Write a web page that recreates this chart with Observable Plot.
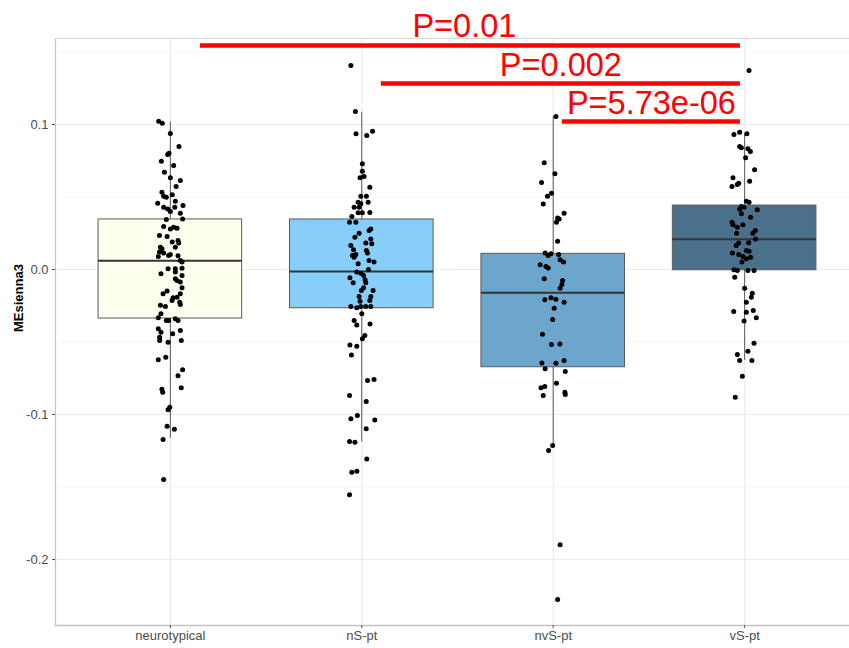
<!DOCTYPE html>
<html>
<head>
<meta charset="utf-8">
<script src="https://cdn.jsdelivr.net/npm/d3@7"></script>
<script src="https://cdn.jsdelivr.net/npm/@observablehq/plot@0.6"></script>
<style>
  html, body { margin: 0; padding: 0; background: #fff; }
  #chart svg { display: block; }
</style>
</head>
<body>
<div id="chart"></div>
<script>
// ---- data ----
const categories = ["neurotypical", "nS-pt", "nvS-pt", "vS-pt"];
const fills = ["#FFFFF0", "#87CEFA", "#6CA6CD", "#4A708B"];

// box statistics (lower whisker, Q1, median, Q3, upper whisker)
const whiskerLo = [-0.1166, -0.1191, -0.1226, -0.0628];
const q1        = [-0.0338, -0.0267, -0.0674, -0.0005];
const median    = [ 0.0060, -0.0014, -0.0161,  0.0209];
const q3        = [ 0.0345,  0.0345,  0.0108,  0.0441];
const whiskerHi = [ 0.1016,  0.1085,  0.1055,  0.0936];

// jittered samples: [horizontal jitter (category units), MEsienna3]
const neurotypicalPts = [[-0.061,0.1023],[-0.042,0.1009],[0,0.0938],[0.045,0.0848],[-0.014,0.0793],[-0.007,0.0802],[-0.047,0.0747],[0.017,0.0717],[-0.031,0.0671],[0,0.0632],[0.052,0.0614],[0.030,0.0572],[-0.044,0.0533],[-0.035,0.0506],[-0.021,0.0499],[0.010,0.0515],[-0.066,0.0457],[-0.035,0.0430],[-0.014,0.0418],[0.026,0.0471],[0.023,0.0430],[0.066,0.0441],[0,0.0400],[0.052,0.0388],[0.064,0.0349],[-0.021,0.0345],
[-0.035,0.0297],[0,0.0280],[0.017,0.0292],[0.035,0.0285],[-0.057,0.0234],[-0.017,0.0228],[0.010,0.0189],[0.040,0.0200],[0.044,0.0182],[0.026,0.0154],[-0.052,0.0154],[-0.044,0.0143],[-0.057,0.0120],[-0.035,0.0113],[-0.009,0.0097],[0,0.0103],[-0.063,0.0090],[0.040,0.0094],[0.052,0.0062],[0.061,0.0051],[-0.012,0.0005],[0.026,0.0005],[0.061,0.0009],[-0.049,-0.0030],[0.026,-0.0018],[0.061,-0.0041],[0.026,-0.0064],[0.035,-0.0076],[0.052,-0.0087],[0.061,-0.0126],[-0.017,-0.0149],[-0.038,-0.0168],[0.014,-0.0195],[0.035,-0.0191],[0.052,-0.0168],[0.009,-0.0214],[0.049,-0.0225],[0.052,-0.0241],[-0.052,-0.0246],[-0.026,-0.0255],[-0.049,-0.0306],[-0.063,-0.0333],[-0.021,-0.0352],[-0.009,-0.0352],[0.026,-0.0340],[0.040,-0.0352],
[-0.063,-0.0409],[-0.049,-0.0432],[-0.056,-0.0467],[-0.056,-0.0490],[-0.012,-0.0501],[0.012,-0.0443],[0.052,-0.0421],[0.057,-0.0490],[-0.063,-0.0623],[-0.024,-0.0605],[0.040,-0.0733],[0.064,-0.0692],[0.057,-0.0816],[-0.044,-0.0826],[-0.040,-0.0846],[-0.012,-0.0968],[-0.003,-0.0950],[-0.017,-0.1081],[0.021,-0.1101],[-0.038,-0.1172],[-0.035,-0.1448]];

const nSPts = [[-0.057,0.1407],[-0.033,0.1090],[-0.030,0.0936],[0.026,0.0924],[0.056,0.0954],[0.003,0.0729],[0.003,0.0678],[-0.009,0.0632],[0.012,0.0641],[0.042,0.0568],[-0.005,0.0506],[0.024,0.0506],[-0.019,0.0464],[-0.005,0.0453],[0.033,0.0464],[-0.040,0.0430],[-0.014,0.0430],[-0.019,0.0391],[0.003,0.0391],[0.042,0.0393],[-0.052,0.0366],[-0.064,0.0326],[-0.031,0.0326],
[0.038,0.0269],[0.047,0.0280],[-0.014,0.0250],[-0.036,0.0223],[0.047,0.0211],[0.021,0.0182],[0.052,0.0177],[-0.057,0.0166],[-0.043,0.0136],[0.024,0.0131],[-0.049,0.0097],[-0.040,0.0085],[-0.031,0.0103],[0.030,0.0113],[-0.019,0.0039],[0.038,0.0062],[0.064,0.0051],[0.035,0.0000],[-0.026,-0.0018],[-0.005,-0.0025],[0.009,-0.0041],[-0.062,-0.0057],[0.017,-0.0071],[-0.045,-0.0092],[0.021,-0.0092],[0.009,-0.0126],[0.059,-0.0145],[-0.002,-0.0145],[-0.014,-0.0186],[0.047,-0.0186],[0.042,-0.0214],[-0.009,-0.0219],[-0.057,-0.0255],[-0.026,-0.0264],[-0.005,-0.0255],[0.021,-0.0255],[0.047,-0.0255],
[0,-0.0306],[-0.040,-0.0352],[-0.026,-0.0382],[0.043,-0.0375],[0.016,-0.0455],[0.003,-0.0478],[-0.062,-0.0520],[-0.026,-0.0529],[-0.054,-0.0589],[0.030,-0.0766],[0.064,-0.0759],[-0.064,-0.0869],[0.023,-0.0910],[-0.057,-0.1030],[-0.023,-0.1007],[0.068,-0.1037],[0.023,-0.1099],[-0.064,-0.1186],[-0.036,-0.1191],[0.026,-0.1306],[-0.052,-0.1398],[-0.026,-0.1391],[-0.064,-0.1554]];

const nvSPts = [[0.014,0.1055],[-0.047,0.0736],[0.009,0.0660],[-0.061,0.0600],[-0.030,0.0506],[-0.009,0.0526],[-0.052,0.0451],[0.057,0.0388],[0.023,0.0356],[0.031,0.0349],[0.017,0.0326],[0.023,0.0195],[-0.042,0.0113],[-0.026,0.0097],[-0.012,0.0108],[0.028,0.0103],[0.036,0.0067],[0.054,0.0051],[-0.068,0.0032],[-0.038,0.0021],[-0.026,0.0011],[-0.047,-0.0064],[0.049,-0.0076],[0.045,-0.0103],[0.036,-0.0129],[-0.044,-0.0209],[-0.012,-0.0195],[0.014,-0.0205],[0.057,-0.0225],[0.005,-0.0267],[-0.003,-0.0345],[-0.056,-0.0446],[-0.009,-0.0517],[0.035,-0.0513],[-0.059,-0.0644],[0.014,-0.0646],[0.057,-0.0628],[-0.042,-0.0685],[0.063,-0.0703],[0.017,-0.0784],[-0.064,-0.0816],[-0.044,-0.0807],[-0.052,-0.0869],[0.061,-0.0846],[0.063,-0.0862],[-0.024,-0.1248],[-0.003,-0.1214],[0.036,-0.1899],[0.023,-0.2276]];

const vSPts = [[0.023,0.1372],[-0.056,0.0931],[-0.026,0.0947],[0.012,0.0936],[-0.026,0.0848],[-0.017,0.0839],[0.017,0.0832],[0.030,0.0814],[0.005,0.0770],[0.052,0.0688],[-0.061,0.0632],[-0.031,0.0595],[-0.066,0.0572],[-0.038,0.0586],[0.026,0.0609],[0.009,0.0471],[0.023,0.0464],[-0.017,0.0434],[-0.003,0.0430],[-0.026,0.0418],[0.066,0.0412],[-0.017,0.0384],[0.031,0.0361],[-0.066,0.0326],[-0.061,0.0308],[-0.038,0.0292],[-0.009,0.0308],[0.056,0.0269],[0.043,0.0250],[-0.042,0.0250],[0.057,0.0211],[-0.031,0.0182],[0.021,0.0184],[-0.044,0.0166],[0.009,0.0131],[0.023,0.0126],[-0.064,0.0113],[-0.031,0.0103],[-0.009,0.0090],[0.031,0.0085],[0.009,0.0074],[-0.014,0.0051],[-0.056,-0.0002],[-0.038,-0.0007],[0.017,-0.0007],[0.049,-0.0007],[-0.052,-0.0053],[0,-0.0129],[0.040,-0.0163],[0.035,-0.0191],[0.009,-0.0225],[-0.057,-0.0290],[0.009,-0.0294],[0.045,-0.0283],[0.061,-0.0333],[-0.003,-0.0356],[0.049,-0.0508],[-0.038,-0.0586],[-0.026,-0.0628],[0.017,-0.0563],[0.038,-0.0628],[-0.012,-0.0736],[-0.049,-0.0881]];

// significance annotations (positions in category units / MEsienna3 units)
const sigLabels = ["P=0.01", "P=0.002", "P=5.73e-06"];
const sigX1     = [0.157, 1.102, 2.048];
const sigX2     = [2.978, 2.978, 2.978];
const sigY      = [0.1545, 0.1283, 0.1021];
const sigTextX  = [1.536, 2.040, 2.513];
const sigTextY  = [0.1603, 0.1334, 0.1072];

const yTicks = [-0.2, -0.1, 0.0, 0.1];
const yMinor = [-0.15, -0.05, 0.05, 0.15];

// ---- tables built from the arrays ----
const groups = [neurotypicalPts, nSPts, nvSPts, vSPts];
const points = groups.flatMap((g, i) => g.map(([dx, v]) => ({x: i + dx, y: v})));
const boxes = categories.map((c, i) => ({
  i, c, fill: fills[i], lo: whiskerLo[i], q1: q1[i], med: median[i], q3: q3[i], hi: whiskerHi[i]
}));
const sigs = sigLabels.map((t, k) => ({t, x1: sigX1[k], x2: sigX2[k], y: sigY[k], tx: sigTextX[k], ty: sigTextY[k]}));

const half = 0.375;
const font = "'Liberation Sans', Arial, Helvetica, sans-serif";

const chart = Plot.plot({
  width: 849,
  height: 648,
  marginTop: 38,
  marginBottom: 23,
  marginLeft: 55,
  marginRight: 0,
  style: {fontFamily: font, fontSize: "13px", background: "#fff", overflow: "visible"},
  x: {type: "linear", domain: [-0.6, 3.6], range: [55, 859]},
  y: {domain: [-0.2455, 0.1593]},
  marks: [
    // grid
    Plot.ruleY(yMinor, {stroke: "#f0f0f0", strokeWidth: 0.7}),
    Plot.ruleY(yTicks, {stroke: "#ebebeb", strokeWidth: 1.1}),
    Plot.ruleX([0, 1, 2, 3], {stroke: "#ebebeb", strokeWidth: 1.1}),
    // panel border (left, top, bottom)
    Plot.frame({anchor: "left", stroke: "#c4c4c4", strokeWidth: 1.2}),
    Plot.frame({anchor: "top", stroke: "#d6d6d6", strokeWidth: 1}),
    Plot.frame({anchor: "bottom", stroke: "#c4c4c4", strokeWidth: 1.6}),
    // axes
    Plot.axisY({ticks: yTicks, tickFormat: d => d.toFixed(1), tickSize: 3, tickPadding: 4,
                color: "#4d4d4d", label: null, fontSize: 13}),
    Plot.axisX({ticks: [0, 1, 2, 3], tickFormat: i => categories[i], tickSize: 3, tickPadding: 2,
                color: "#4d4d4d", label: null, fontSize: 13}),
    Plot.text(["MEsienna3"], {frameAnchor: "left", rotate: -90, dx: -37, fontWeight: "bold",
                              fontSize: 13, fill: "#000"}),
    // whiskers
    Plot.ruleX(boxes, {x: "i", y1: "lo", y2: "hi", stroke: "#5a5a5a", strokeWidth: 1}),
    // boxes
    Plot.rect(boxes, {x1: d => d.i - half, x2: d => d.i + half, y1: "q1", y2: "q3",
                      fill: "fill", stroke: "#5a5a5a", strokeWidth: 1}),
    Plot.ruleY(boxes, {x1: d => d.i - half, x2: d => d.i + half, y: "med", stroke: "#333", strokeWidth: 2}),
    // points
    Plot.dot(points, {x: "x", y: "y", r: 2.5, fill: "#000", stroke: "none"}),
    // significance bars
    Plot.ruleY(sigs, {x1: "x1", x2: "x2", y: "y", stroke: "#ff0000", strokeWidth: 4.5}),
    Plot.text(sigs, {x: "tx", y: "ty", text: "t", fill: "#ff0000", fontSize: 32.5,
                     lineAnchor: "bottom", textAnchor: "middle", fontFamily: font})
  ]
});

document.getElementById("chart").appendChild(chart);
</script>
</body>
</html>
